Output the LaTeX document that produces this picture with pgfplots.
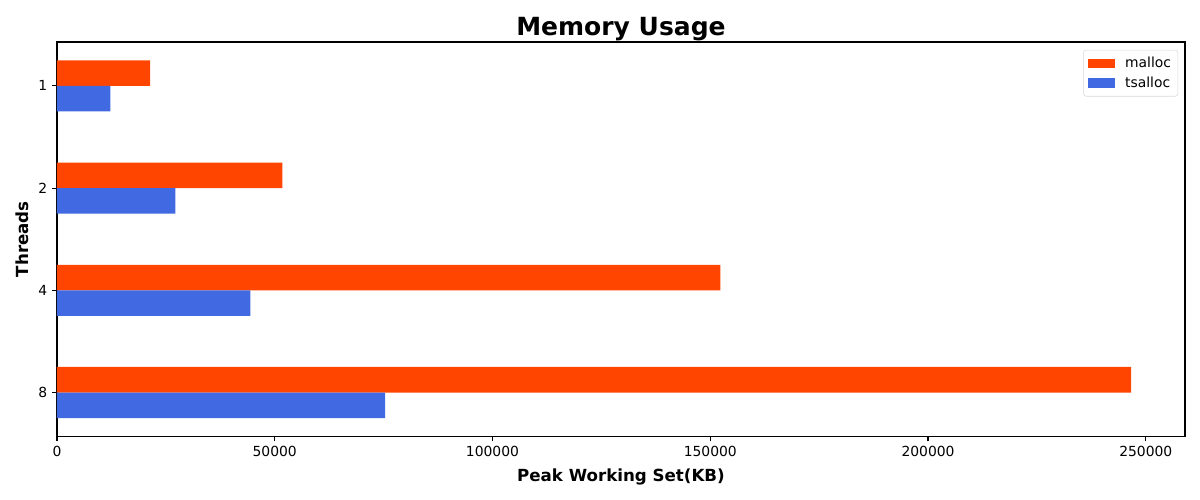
\documentclass[border=0pt]{standalone}
\usepackage{pgfplots}
\pgfplotsset{compat=1.18}
\usepackage{fontspec}
\setmainfont{DejaVu Sans}
\definecolor{mallocc}{HTML}{FF4500}
\definecolor{tsallocc}{HTML}{4169E1}

\begin{document}
\begin{tikzpicture}
\begin{axis}[
    scale only axis,
    width=812pt, height=284pt,
    xbar,
    bar width=0.25,
    y dir=reverse,
    xmin=0, xmax=259000,
    ymin=-0.43, ymax=3.43,
    ytick={0,1,2,3},
    yticklabels={1,2,4,8},
    xtick={0,50000,100000,150000,200000,250000},
    scaled ticks=false,
    /pgf/number format/.cd, fixed, 1000 sep={}, assume math mode=true,
    /pgfplots/.cd,
    tick pos=left,
    tick align=outside,
    major tick length=3.5pt,
    axis line style={line width=0.8pt},
    tick style={line width=0.8pt, black},
    tick label style={font=\fontsize{10}{12}\selectfont},
    title={Memory Usage},
    title style={font=\bfseries\fontsize{18}{21}\selectfont, yshift=-8.5pt},
    xlabel={Peak Working Set(KB)},
    ylabel={Threads},
    label style={font=\bfseries\fontsize{12}{14}\selectfont},
    xlabel style={yshift=-2pt},
    legend style={at={(0.994,0.98)}, anchor=north east, draw=black!15,
        rounded corners=2pt, font=\fontsize{10}{12}\selectfont,
        row sep=1pt, inner sep=3pt},
    legend cell align=left,
    legend image code/.code={\fill[#1, sharp corners] (0pt,-3.5pt) rectangle (20pt,3.5pt);
        \path (25pt,0pt);},
]
\addplot[fill=mallocc, draw=none, bar shift=-0.125] coordinates {
    (21370,0) (51770,1) (152340,2) (246600,3)
};
\addlegendentry{malloc}
\addplot[fill=tsallocc, draw=none, bar shift=0.125] coordinates {
    (12250,0) (27180,1) (44400,2) (75370,3)
};
\addlegendentry{tsalloc}
\coordinate (sw) at (rel axis cs:0,0);
\coordinate (ne) at (rel axis cs:1,1);
\end{axis}
\pgfresetboundingbox
\path ([xshift=-41pt,yshift=-45.4pt]sw) rectangle ([xshift=10.8pt,yshift=30.2pt]ne);
\end{tikzpicture}
\end{document}
